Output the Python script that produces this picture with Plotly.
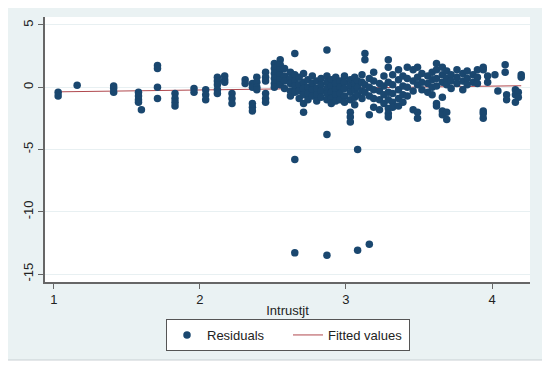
import plotly.graph_objects as go

# ---- data ----
resid_cols = {
    1.03: [-0.4, -0.7],
    1.16: [0.15],
    1.41: [0.1, -0.1, -0.4],
    1.58: [-0.4, -0.7, -1.0, -1.2],
    1.60: [-1.8],
    1.71: [1.75, 1.5, 0.0, -0.9],
    1.83: [-0.5, -0.9, -1.2, -1.5],
    1.96: [-0.1, -0.4],
    2.04: [-0.2, -0.6, -1.0],
    2.12: [0.8, 0.5, 0.2, -0.2, -0.5],
    2.17: [0.9, 0.6, 0.4],
    2.22: [-0.5, -0.9, -1.3],
    2.31: [0.6, 0.3],
    2.36: [0.3, 0.0, -1.3, -1.6, -1.9],
    2.39: [0.8, 0.4, 0.0, -0.2],
    2.45: [1.2, 0.8, 0.5, -0.5, -0.9, -1.2],
    2.51: [1.9, 1.5, 1.1, 0.7, 0.3, 0.0],
    2.55: [2.2, 1.8, 1.4, 1.0, 0.6, 0.2],
    2.58: [1.5, 0.9, 0.5, -0.1],
    2.62: [1.2, 0.7, 0.3, -0.3, -0.7],
    2.65: [2.7, 1.0, 0.5, 0.1, -0.4, -5.8, -13.3],
    2.68: [0.8, 0.2, -0.3, -0.9],
    2.71: [1.1, 0.4, -0.1, -0.6, -1.3, -2.0],
    2.74: [0.6, 0.0, -0.5, -1.0],
    2.77: [0.9, 0.3, -0.2, -0.7],
    2.80: [0.5, -0.1, -0.6, -1.1],
    2.83: [0.7, 0.2, -0.3, -0.8],
    2.87: [3.0, 0.9, 0.4, -0.1, -0.5, -1.0, -3.8, -13.5],
    2.90: [0.6, 0.1, -0.4, -0.9, -1.3],
    2.93: [0.8, 0.3, -0.2, -0.6, -1.1],
    2.96: [0.5, 0.0, -0.5, -1.0],
    2.99: [0.9, 0.4, -0.1, -0.7, -1.2],
    3.03: [0.6, 0.1, -0.4, -1.0, -2.0, -2.4, -2.8],
    3.06: [0.8, 0.3, -0.2, -0.8, -1.4],
    3.08: [0.5, 0.0, -0.6, -5.0, -13.1],
    3.11: [1.0, 0.4, -0.3, -0.9],
    3.13: [2.7, 2.2, 0.2, -0.4],
    3.16: [0.7, 0.0, -0.7, -2.2, -12.6],
    3.19: [1.2, 0.5, -0.2, -0.9, -1.6],
    3.23: [0.3, -0.3, -1.0, -1.8],
    3.26: [0.9, 0.1, -0.6, -1.3],
    3.29: [2.2, 1.6, 0.4, -0.4, -1.0, -1.7, -2.1, -2.4],
    3.32: [1.0, 0.2, -0.5, -1.2, -1.6],
    3.36: [1.4, 0.6, -0.2, -0.9, -1.5],
    3.39: [0.9, 0.1, -0.6, -1.2],
    3.42: [1.6, 0.7, 0.0, -0.7],
    3.46: [1.4, 0.5, -0.3, -1.8],
    3.49: [1.6, 0.8, 0.2, -2.0, -2.5],
    3.52: [1.1, 0.4, -0.2],
    3.56: [0.9, 0.3, -0.4],
    3.59: [1.2, 0.6, 0.0, -0.6],
    3.62: [1.9, 1.4, 0.7, 0.1, -1.3, -1.5],
    3.66: [1.6, 1.0, 0.4, -0.8, -1.9, -2.2],
    3.69: [1.3, 0.7, 0.2, -2.0, -2.6],
    3.72: [1.0, 0.5, -0.1],
    3.76: [1.4, 0.8, 0.3],
    3.80: [1.1, 0.5, -0.2],
    3.83: [1.3, 0.7, 0.2],
    3.87: [1.0, 0.4],
    3.90: [1.4, 0.8, 0.3],
    3.94: [1.6, 1.4, -1.9, -2.1, -2.5],
    3.97: [0.9, 0.4],
    4.02: [1.0],
    4.04: [-0.3],
    4.09: [1.8, 1.2],
    4.10: [-0.6, -1.0],
    4.16: [-0.2, -0.6, -1.2],
    4.18: [-0.4, -0.8],
    4.20: [1.0, 0.8],
}
resid_x = [x for x, ys in resid_cols.items() for _ in ys]
resid_y = [y for ys in resid_cols.values() for y in ys]

fit_x = [1.03, 4.20]
fit_y = [-0.37, 0.12]

x_ticks = [1, 2, 3, 4]
y_ticks = [5, 0, -5, -10, -15]

NAVY = "#1a476f"
MAROON = "#b0484e"
BG = "#eaf2f3"
FONT = "Liberation Sans, Arial, sans-serif"

fig = go.Figure()
fig.add_trace(go.Scatter(x=fit_x, y=fit_y, mode="lines", name="Fitted values",
                         line=dict(color=MAROON, width=1), legendrank=2))
fig.add_trace(go.Scatter(x=resid_x, y=resid_y, mode="markers", name="Residuals",
                         marker=dict(color=NAVY, size=7.5, line=dict(width=0)),
                         legendrank=1))

# the page body has an 8px default margin, so work in page pixels and shift
OFF = 8
W, H = 550, 368
PL, PR, PT, PB = 45, 530, 17, 282          # plot area in page pixels
L, T = PL - OFF, PT - OFF
R, B = W - (PR - OFF), H - (PB - OFF)
pw, ph = PR - PL, PB - PT

def px2paper_x(p):
    return (p - PL) / pw

def px2paper_y(p):
    return (PB - p) / ph

shapes = [
    dict(type="rect", xref="paper", yref="paper", layer="below",
         x0=px2paper_x(7), x1=px2paper_x(543), y0=px2paper_y(360), y1=px2paper_y(5),
         fillcolor=BG, line=dict(color="#c9d0d3", width=1)),
    dict(type="rect", xref="paper", yref="paper", layer="below",
         x0=0, x1=1, y0=0, y1=1, fillcolor="white", line=dict(width=0)),
]

fig.update_layout(
    width=W, height=H,
    margin=dict(l=L, r=R, t=T, b=B, autoexpand=False),
    paper_bgcolor="white",
    plot_bgcolor="white",
    shapes=shapes,
    font=dict(family=FONT, size=13, color="#222"),
    showlegend=True,
    legend=dict(orientation="h", x=px2paper_x(166), xanchor="left",
                y=px2paper_y(335), yanchor="middle",
                bgcolor="white", bordercolor="#555", borderwidth=1,
                font=dict(family=FONT, size=13, color="#222"),
                itemwidth=30, entrywidth=76, entrywidthmode="pixels"),
    xaxis=dict(range=[0.94, 4.26], tickvals=x_ticks, ticktext=[str(v) for v in x_ticks],
               showgrid=False, zeroline=False, showline=True, linecolor="#666", linewidth=1.5,
               ticks="outside", ticklen=5, tickcolor="#666", tickwidth=1,
               tickfont=dict(size=13, color="#222"), automargin=False,
               title=dict(text="Intrustjt", font=dict(size=13, color="#222"), standoff=0)),
    yaxis=dict(range=[-15.64, 5.64], tickvals=y_ticks, ticktext=[str(v) for v in y_ticks],
               showgrid=True, gridcolor="#e8f0f2", gridwidth=1, zeroline=False,
               showline=True, linecolor="#666", linewidth=1.5, automargin=False,
               ticks="outside", ticklen=5, tickcolor="#666", tickwidth=1,
               tickangle=-90, tickfont=dict(size=13, color="#222")),
)

fig.write_html("out.html")
